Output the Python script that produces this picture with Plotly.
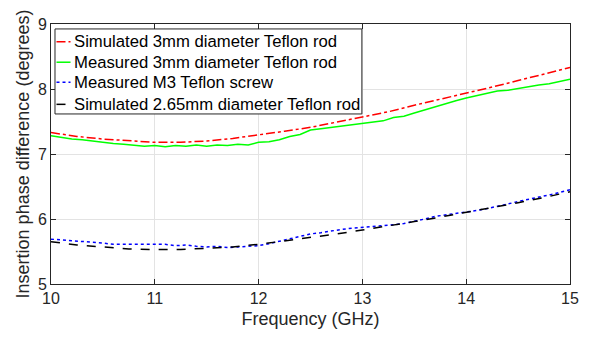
import plotly.graph_objects as go

# Simulated curves (0.25 GHz step)
f_sim = [10.0, 10.25, 10.5, 10.75, 11.0, 11.25, 11.5, 11.75, 12.0, 12.25, 12.5,
         12.75, 13.0, 13.25, 13.5, 13.75, 14.0, 14.25, 14.5, 14.75, 15.0]
sim_3mm = [7.33, 7.27, 7.23, 7.20, 7.18, 7.18, 7.20, 7.24, 7.29, 7.35, 7.41,
           7.49, 7.565, 7.65, 7.75, 7.84, 7.94, 8.03, 8.13, 8.23, 8.33]
sim_265 = [5.65, 5.60, 5.57, 5.54, 5.53, 5.53, 5.55, 5.57, 5.61, 5.66, 5.71,
           5.77, 5.83, 5.89, 5.96, 6.03, 6.10, 6.17, 6.25, 6.33, 6.42]

# Measured curves (0.1 GHz step)
f_meas = [10.0, 10.1, 10.2, 10.3, 10.4, 10.5, 10.6, 10.7, 10.8, 10.9,
          11.0, 11.1, 11.2, 11.3, 11.4, 11.5, 11.6, 11.7, 11.8, 11.9,
          12.0, 12.1, 12.2, 12.3, 12.4, 12.5, 12.6, 12.7, 12.8, 12.9,
          13.0, 13.1, 13.2, 13.3, 13.4, 13.5, 13.6, 13.7, 13.8, 13.9,
          14.0, 14.1, 14.2, 14.3, 14.4, 14.5, 14.6, 14.7, 14.8, 14.9, 15.0]
meas_3mm = [7.28, 7.25, 7.23, 7.22, 7.20, 7.17, 7.16, 7.15, 7.14, 7.12,
            7.13, 7.11, 7.13, 7.12, 7.14, 7.12, 7.14, 7.13, 7.15, 7.14,
            7.18, 7.19, 7.22, 7.27, 7.30, 7.37, 7.39, 7.41, 7.42, 7.44,
            7.46, 7.48, 7.51, 7.56, 7.58, 7.63, 7.68, 7.72, 7.78, 7.82,
            7.86, 7.90, 7.93, 7.97, 7.98, 8.01, 8.03, 8.06, 8.08, 8.12, 8.15]
meas_m3 = [5.69, 5.68, 5.67, 5.65, 5.64, 5.63, 5.61, 5.61, 5.60, 5.61,
           5.60, 5.61, 5.59, 5.60, 5.58, 5.57, 5.58, 5.56, 5.57, 5.58,
           5.59, 5.62, 5.66, 5.70, 5.74, 5.77, 5.79, 5.82, 5.84, 5.86,
           5.87, 5.89, 5.89, 5.91, 5.93, 5.96, 6.00, 6.04, 6.06, 6.09,
           6.10, 6.13, 6.16, 6.19, 6.23, 6.27, 6.30, 6.33, 6.37, 6.41, 6.45]

x_ticks = [10, 11, 12, 13, 14, 15]
y_ticks = [5, 6, 7, 8, 9]

series_names = ["Simulated 3mm diameter Teflon rod", "Measured 3mm diameter Teflon rod",
                "Measured M3 Teflon screw", "Simulated 2.65mm diameter Teflon rod"]
series_colors = ["#ff0000", "#00ff00", "#0000ff", "#000000"]
series_dash = ["dashdot", "solid", "dot", "dash"]
series_x = [f_sim, f_meas, f_meas, f_sim]
series_y = [sim_3mm, meas_3mm, meas_m3, sim_265]

FONT = "Liberation Sans, Arial, sans-serif"
GREY = "#262626"

fig = go.Figure()
for name, xs, ys, c, d in zip(series_names, series_x, series_y, series_colors, series_dash):
    fig.add_trace(go.Scatter(x=xs, y=ys, mode="lines", name=name, showlegend=False,
                             line=dict(color=c, width=1.5, dash=d)))

axis_common = dict(showline=True, linecolor=GREY, linewidth=1, mirror="ticks",
                   ticks="inside", ticklen=5, tickcolor=GREY, automargin=False,
                   showgrid=True, gridcolor="#e3e3e3", gridwidth=1, zeroline=False,
                   tickfont=dict(family=FONT, size=16, color=GREY))

# Manual legend (box, line samples, labels) in plot-area paper coordinates
shapes = [dict(type="rect", xref="paper", yref="paper", x0=0.0077, x1=0.599, y0=0.654, y1=0.981,
               line=dict(color=GREY, width=1), fillcolor="white", layer="above")]
annotations = []
row_y = [0.932, 0.853, 0.776, 0.691]
for name, c, d, ry in zip(series_names, series_colors, series_dash, row_y):
    shapes.append(dict(type="line", xref="paper", yref="paper", x0=0.0106, x1=0.0376, y0=ry, y1=ry,
                       line=dict(color=c, width=1.5, dash=d), layer="above"))
    annotations.append(dict(xref="paper", yref="paper", x=0.040, y=ry, xanchor="left", yanchor="middle",
                            text=name, showarrow=False,
                            font=dict(family=FONT, size=16.7, color="#000000")))

fig.update_layout(
    template="none",
    width=589, height=339,
    margin=dict(l=51, r=19, t=24, b=55),
    paper_bgcolor="white", plot_bgcolor="white",
    font=dict(family=FONT, size=16, color=GREY),
    xaxis=dict(range=[10, 15], tickvals=x_ticks,
               title=dict(text="Frequency (GHz)", font=dict(family=FONT, size=18, color=GREY), standoff=6),
               **axis_common),
    yaxis=dict(range=[5, 9], tickvals=y_ticks,
               title=dict(text="Insertion phase difference (degrees)", font=dict(family=FONT, size=18, color=GREY), standoff=3),
               **axis_common),
    shapes=shapes,
    annotations=annotations,
    showlegend=False,
)
fig.write_html("out.html")
